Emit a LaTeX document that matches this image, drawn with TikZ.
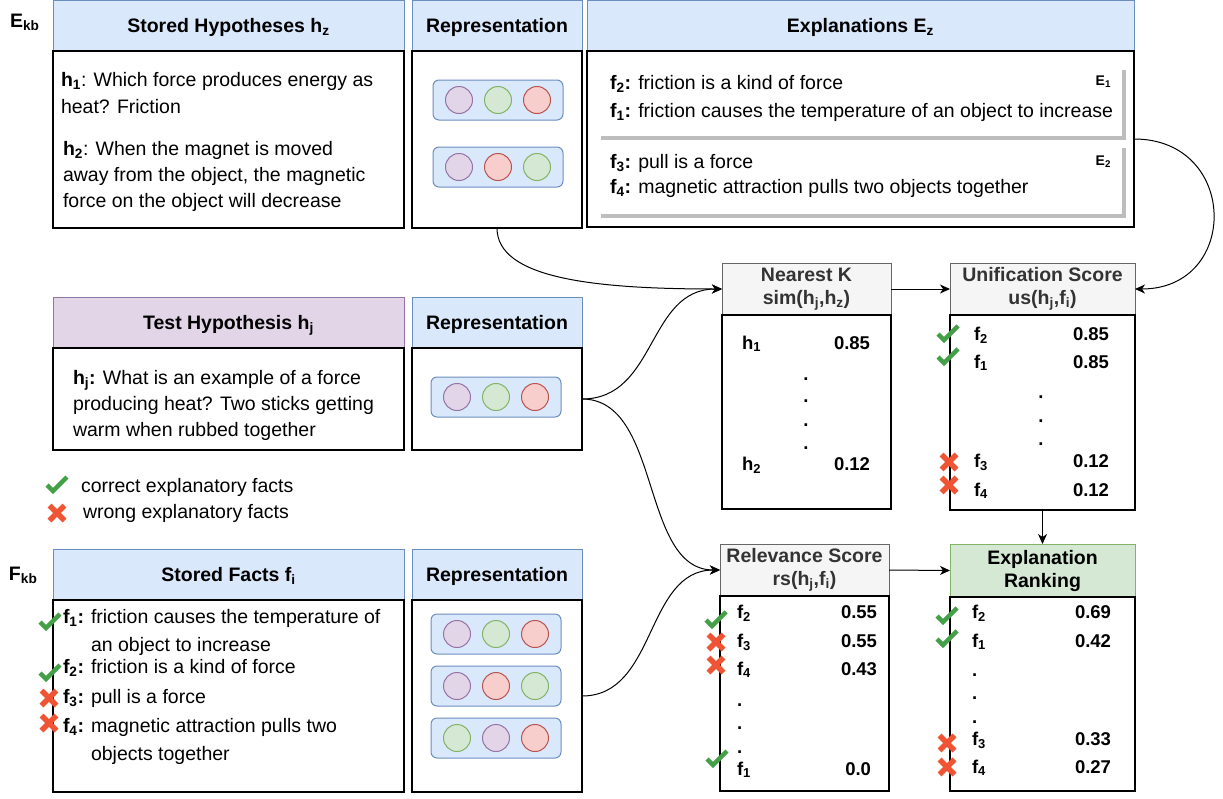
\documentclass[tikz,border=0pt]{standalone}
\usepackage{fontspec}
\setmainfont{Liberation Sans}
\usetikzlibrary{positioning,arrows.meta}

\definecolor{fillblue}{HTML}{DAE8FC}
\definecolor{lineblue}{HTML}{6C8EBF}
\definecolor{fillpurple}{HTML}{E1D5E7}
\definecolor{linepurple}{HTML}{9673A6}
\definecolor{fillgreen}{HTML}{D5E8D4}
\definecolor{linegreen}{HTML}{82B366}
\definecolor{fillred}{HTML}{F8CECC}
\definecolor{linered}{HTML}{B85450}
\definecolor{fillgray}{HTML}{F5F5F5}
\definecolor{linegray}{HTML}{666666}
\definecolor{textgray}{HTML}{333333}
\definecolor{shadowgray}{HTML}{BDBDBD}
\definecolor{okgreen}{HTML}{43A047}
\definecolor{badred}{HTML}{EF5535}

\newcommand{\sbs}[1]{\textsubscript{#1}}
\newcommand{\hdrfont}{\fontsize{19.5}{23}\selectfont\bfseries}
\newcommand{\bodyfont}{\fontsize{19.5}{26}\selectfont}
\newcommand{\numfont}{\fontsize{18.5}{22}\selectfont\bfseries}

\tikzset{
	pics/vecrow/.style n args={3}{code={
		\draw[draw=lineblue,fill=fillblue,line width=1pt,rounded corners=6pt] (-65,-20) rectangle (65,20);
		\draw[#1] (-39,0) circle[radius=13.5pt];
		\draw[#2] (0,0) circle[radius=13.5pt];
		\draw[#3] (39,0) circle[radius=13.5pt];
	}},
	pics/okmark/.style={code={\draw[okgreen,line width=4.5pt] (-10,0) -- (-4,6) -- (10,-8);}},
	pics/badmark/.style={code={\draw[badred,line width=5.5pt] (-7.5,-7.5) -- (7.5,7.5) (-7.5,7.5) -- (7.5,-7.5);}},
}

\begin{document}
\begin{tikzpicture}[x=1pt,y=-1pt,
	every node/.style={inner sep=0pt,outer sep=0pt},
	hdr/.style={draw=lineblue,fill=fillblue,line width=1pt,font=\hdrfont,text height=14pt,text depth=0pt,minimum height=51pt},
	testhdr/.style={hdr,draw=linepurple,fill=fillpurple},
	scorehdr/.style={draw=linegray,fill=fillgray,line width=1pt,font=\hdrfont,text=textgray,align=center,minimum height=52pt},
	rankhdr/.style={scorehdr,draw=linegreen,fill=fillgreen,text=black},
	body/.style={draw=black,fill=white,line width=1.1pt},
	txt/.style={anchor=base west,font=\bodyfont,align=left},
	lab/.style={anchor=base west,font=\bodyfont\bfseries},
	num/.style={anchor=base west,font=\numfont},
	val/.style={anchor=base east,font=\numfont},
	conn/.style={-{Stealth[length=10pt,width=9pt,inset=3pt]},line width=1pt},
	ballp/.style={draw=linepurple,fill=fillpurple,line width=1pt},
	ballg/.style={draw=linegreen,fill=fillgreen,line width=1pt},
	ballr/.style={draw=linered,fill=fillred,line width=1pt}]
	\useasboundingbox (0,0) rectangle (1223,798);

	% Knowledge base labels
	\node[anchor=base west,font=\hdrfont] (ekb) at (10,27) {E\sbs{kb}};
	\node[anchor=base west,font=\hdrfont] (fkb) at (9,580) {F\sbs{kb}};

	% Stored hypotheses (multi-line texts sit on their last baseline)
	\node[hdr,minimum width=351pt] (hyphdr) at (228.5,25.5) {Stored Hypotheses h\sbs{z}};
	\node[body,minimum width=351pt,minimum height=177pt] (hypbody) at (228.5,139.5) {};
	\node[txt] (h1txt) at (61,113) {\textbf{h\sbs{1}}: Which force produces energy as\\[1pt]heat? Friction};
	\node[txt] (h2txt) at (63,207) {\textbf{h\sbs{2}}: When the magnet is moved\\away from the object, the magnetic\\force on the object will decrease};

	\node[hdr,minimum width=170pt] (rep1hdr) at (497,25.5) {Representation};
	\node[body,minimum width=170pt,minimum height=177pt] (rep1body) at (497,139.5) {};
	\pic at (498,100) {vecrow={ballp}{ballg}{ballr}};
	\pic at (498,167) {vecrow={ballp}{ballr}{ballg}};

	% Explanations
	\node[hdr,minimum width=547pt] (exhdr) at (860.5,25.5) {Explanations E\sbs{z}};
	\node[body,minimum width=547pt,minimum height=176pt] (exbody) at (860.5,139) {};
	\draw[shadowgray,line width=3.5pt] (601,138) -- (1124,138) -- (1124,70);
	\draw[shadowgray,line width=3.5pt] (601,216) -- (1124,216) -- (1124,148);
	\node[txt] (e1a) at (610,89) {\textbf{f\sbs{2}:} friction is a kind of force};
	\node[txt] (e1b) at (610,117) {\textbf{f\sbs{1}:} friction causes the temperature of an object to increase};
	\node[txt] (e2a) at (610,168) {\textbf{f\sbs{3}:} pull is a force};
	\node[txt] (e2b) at (610,193) {\textbf{f\sbs{4}:} magnetic attraction pulls two objects together};
	\node[anchor=base east,font=\fontsize{14}{16}\selectfont\bfseries] (e1lab) at (1111,85) {E\sbs{1}};
	\node[anchor=base east,font=\fontsize{14}{16}\selectfont\bfseries] (e2lab) at (1111,165) {E\sbs{2}};

	% Test hypothesis
	\node[testhdr,minimum width=351pt] (testhdr) at (228.5,322.5) {Test Hypothesis h\sbs{j}};
	\node[body,minimum width=351pt,minimum height=102pt] (testbody) at (228.5,399) {};
	\node[txt] (hjtxt) at (73,436) {\textbf{h\sbs{j}:} What is an example of a force\\producing heat? Two sticks getting\\warm when rubbed together};

	\node[hdr,minimum width=170pt] (rep2hdr) at (497,322.5) {Representation};
	\node[body,minimum width=170pt,minimum height=102pt] (rep2body) at (497,399) {};
	\pic at (496,397) {vecrow={ballp}{ballg}{ballr}};

	% Legend
	\pic at (57,485) {okmark};
	\node[txt] (oklegend) at (81,492) {correct explanatory facts};
	\pic at (57,513) {badmark};
	\node[txt] (badlegend) at (83,518) {wrong explanatory facts};

	% Stored facts
	\node[hdr,minimum width=351pt] (facthdr) at (228.5,574.5) {Stored Facts f\sbs{i}};
	\node[body,minimum width=351pt,minimum height=192pt] (factbody) at (228.5,696) {};
	\node[lab] (f1lab) at (63,623) {f\sbs{1}:};
	\node[txt,font=\fontsize{19.5}{28}\selectfont] (f1txt) at (91,651) {friction causes the temperature of\\an object to increase};
	\node[lab] (f2lab) at (63,673) {f\sbs{2}:};
	\node[txt] (f2txt) at (91,673) {friction is a kind of force};
	\node[lab] (f3lab) at (63,703) {f\sbs{3}:};
	\node[txt] (f3txt) at (91,703) {pull is a force};
	\node[lab] (f4lab) at (63,732) {f\sbs{4}:};
	\node[txt,font=\fontsize{19.5}{28}\selectfont] (f4txt) at (91,760) {magnetic attraction pulls two\\objects together};
	\pic at (50,622) {okmark};
	\pic at (50,673) {okmark};
	\pic at (49,698) {badmark};
	\pic at (49,723) {badmark};

	\node[hdr,minimum width=170pt] (rep3hdr) at (497,574.5) {Representation};
	\node[body,minimum width=170pt,minimum height=192pt] (rep3body) at (497,696) {};
	\pic at (496,634) {vecrow={ballp}{ballg}{ballr}};
	\pic at (496,686) {vecrow={ballp}{ballr}{ballg}};
	\pic at (496,738) {vecrow={ballg}{ballp}{ballr}};

	% Nearest K
	\node[scorehdr,minimum width=169pt] (nkhdr) at (806.5,289) {Nearest K\\sim(h\sbs{j},h\sbs{z})};
	\node[body,minimum width=169pt,minimum height=194pt] (nkbody) at (806.5,412) {};
	\node[num] (nkh1) at (742,349) {h\sbs{1}};
	\node[val] (nkv1) at (870,349) {0.85};
	\node[num,anchor=base] (nkd1) at (806,380) {.};
	\node[num,anchor=base] (nkd2) at (806,402) {.};
	\node[num,anchor=base] (nkd3) at (806,426) {.};
	\node[num,anchor=base] (nkd4) at (806,449) {.};
	\node[num] (nkh2) at (742,470) {h\sbs{2}};
	\node[val] (nkv2) at (870,470) {0.12};

	% Unification score
	\node[scorehdr,minimum width=185pt] (ushdr) at (1042.5,289) {Unification Score\\us(h\sbs{j},f\sbs{i})};
	\node[body,minimum width=185pt,minimum height=195pt] (usbody) at (1042.5,412.5) {};
	\node[num] (usf2) at (974,340) {f\sbs{2}};
	\node[val] (usv2) at (1109,340) {0.85};
	\node[num] (usf1) at (974,368) {f\sbs{1}};
	\node[val] (usv1) at (1109,368) {0.85};
	\node[num,anchor=base] (usd1) at (1041,398) {.};
	\node[num,anchor=base] (usd2) at (1041,422) {.};
	\node[num,anchor=base] (usd3) at (1041,445) {.};
	\node[num] (usf3) at (974,467) {f\sbs{3}};
	\node[val] (usv3) at (1109,467) {0.12};
	\node[num] (usf4) at (974,496) {f\sbs{4}};
	\node[val] (usv4) at (1109,496) {0.12};
	\pic at (948,334) {okmark};
	\pic at (948,357) {okmark};
	\pic at (949,462) {badmark};
	\pic at (949,485) {badmark};

	% Relevance score
	\node[scorehdr,minimum width=169pt] (rshdr) at (804.5,570) {Relevance Score\\rs(h\sbs{j},f\sbs{i})};
	\node[body,minimum width=169pt,minimum height=195pt] (rsbody) at (804.5,693.5) {};
	\node[num] (rsf2) at (737,618) {f\sbs{2}};
	\node[val] (rsv2) at (877,618) {0.55};
	\node[num] (rsf3) at (737,647) {f\sbs{3}};
	\node[val] (rsv3) at (877,647) {0.55};
	\node[num] (rsf4) at (737,675) {f\sbs{4}};
	\node[val] (rsv4) at (877,675) {0.43};
	\node[num] (rsd1) at (737,706) {.};
	\node[num] (rsd2) at (737,729) {.};
	\node[num] (rsd3) at (737,753) {.};
	\node[num] (rsf1) at (737,775) {f\sbs{1}};
	\node[val] (rsv1) at (871,775) {0.0};
	\pic at (716,620) {okmark};
	\pic at (716,642) {badmark};
	\pic at (716,665) {badmark};
	\pic at (717,759) {okmark};

	% Explanation ranking
	\node[rankhdr,minimum width=185pt,minimum height=53pt] (erhdr) at (1042.5,570.5) {Explanation\\Ranking};
	\node[body,minimum width=185pt,minimum height=194pt] (erbody) at (1042.5,694) {};
	\node[num] (erf2) at (972,618) {f\sbs{2}};
	\node[val] (erv2) at (1111,618) {0.69};
	\node[num] (erf1) at (972,647) {f\sbs{1}};
	\node[val] (erv1) at (1111,647) {0.42};
	\node[num] (erd1) at (972,676) {.};
	\node[num] (erd2) at (972,699) {.};
	\node[num] (erd3) at (972,723) {.};
	\node[num] (erf3) at (972,745) {f\sbs{3}};
	\node[val] (erv3) at (1111,745) {0.33};
	\node[num] (erf4) at (972,773) {f\sbs{4}};
	\node[val] (erv4) at (1111,773) {0.27};
	\pic at (947,616) {okmark};
	\pic at (947,639) {okmark};
	\pic at (947,743) {badmark};
	\pic at (947,767) {badmark};

	% Connectors
	\draw[conn] (rep1body.south) .. controls +(0,50) and +(-130,0) .. (nkhdr.west);
	\draw[conn] (rep2body.east) .. controls +(75,0) and +(-75,0) .. (nkhdr.west);
	\draw[conn] (rep2body.east) .. controls +(80,0) and +(-80,0) .. (rshdr.west);
	\draw[conn] (rep3body.east) .. controls +(75,0) and +(-75,0) .. (rshdr.west);
	\draw[conn] (nkhdr.east) -- (ushdr.west);
	\draw[conn] (exbody.east) .. controls +(105,0) and +(105,0) .. (ushdr.east);
	\draw[conn] (usbody.south) -- (erhdr.north);
	\draw[conn] (rshdr.east) -- (erhdr.west);
\end{tikzpicture}
\end{document}
